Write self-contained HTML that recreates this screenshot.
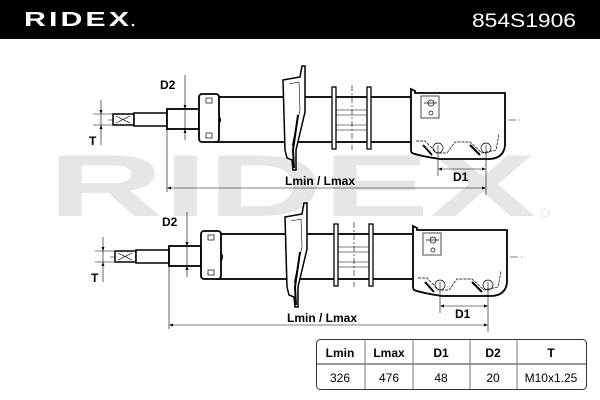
<!DOCTYPE html>
<html><head><meta charset="utf-8"><style>
html,body{margin:0;padding:0;background:#fff;}
svg{display:block;font-family:"Liberation Sans",Arial,sans-serif;}
</style></head><body>
<svg width="600" height="400" viewBox="0 0 600 400" xmlns="http://www.w3.org/2000/svg">
<rect x="0" y="0" width="600" height="39" fill="#000"/>
<text x="24" y="26" fill="#fff" font-size="20" font-weight="bold" textLength="108" lengthAdjust="spacingAndGlyphs" letter-spacing="2">RIDEX</text>
<circle cx="133" cy="25" r="1.3" fill="#fff"/>
<text x="472" y="27" fill="#fff" font-size="19" textLength="104" lengthAdjust="spacingAndGlyphs">854S1906</text>

<!-- watermark -->
<text x="48" y="216" fill="#e6e6e6" font-size="88" font-weight="bold" textLength="488" lengthAdjust="spacingAndGlyphs">RIDEX</text>
<circle cx="545" cy="213" r="4" fill="none" stroke="#e0e0e0" stroke-width="1"/>

<defs>
<g id="shock">
  <!-- center line -->
  <line x1="108" y1="120" x2="520" y2="120" stroke="#000" stroke-width="0.6" stroke-dasharray="8,3,2,3"/>
  <!-- end thread -->
  <rect x="113" y="114" width="21" height="11" fill="#fff" stroke="#000" stroke-width="1.5"/>
  <path d="M116 116 L130 123 M116 123 L130 116" stroke="#000" stroke-width="0.6"/>
  <!-- rod -->
  <rect x="134" y="113" width="33" height="13" fill="#fff" stroke="#000" stroke-width="1.5"/>
  <!-- D2 section -->
  <rect x="167" y="109" width="32" height="20" fill="#fff" stroke="#000" stroke-width="1.8"/>
  <!-- tube -->
  <rect x="215" y="97" width="200" height="45" fill="#fff" stroke="#000" stroke-width="1.8"/>
  <!-- cap -->
  <rect x="199" y="94" width="20" height="48" rx="3" fill="#fff" stroke="#000" stroke-width="1.8"/>
  <rect x="206" y="98" width="6" height="5" fill="none" stroke="#000" stroke-width="0.7"/>
  <rect x="206" y="133" width="6" height="5" fill="none" stroke="#000" stroke-width="0.7"/>
  <path d="M219 116 q3 4 0 8" fill="none" stroke="#000" stroke-width="1"/>
  <!-- spring plate -->
  <path d="M283 80 L300 77 L302 66 L305 66 L305 112 L296 150 L296 170 L293 170 L292 160 L287 158 L285 150 Z" fill="#fff" stroke="#000" stroke-width="1.5"/>
  <path d="M289 84 L299 82 L300 110 L292 146" fill="none" stroke="#000" stroke-width="0.6"/>
  <path d="M298 115 L293 150 L294 168" fill="none" stroke="#000" stroke-width="2"/>
  <!-- rings -->
  <rect x="332" y="87" width="4" height="62" fill="#fff" stroke="#000" stroke-width="1.3"/>
  <rect x="367" y="87" width="4" height="62" fill="#fff" stroke="#000" stroke-width="1.3"/>
  <path d="M336 110 L367 110 M336 115 L367 115 M336 125 L367 125 M336 130 L367 130" stroke="#000" stroke-width="0.6"/>
  <line x1="352" y1="85" x2="352" y2="150" stroke="#000" stroke-width="0.6" stroke-dasharray="6,2,2,2"/>
  <!-- bracket -->
  <path d="M411 89 L415 91 L415 93 L505 93 L505 145 Q504 158 490 159 L440 159 Q420 156 412 153 Q411 152 411 150 Z" fill="#fff" stroke="#000" stroke-width="1.8"/>
  <rect x="421" y="96" width="18" height="22" fill="none" stroke="#000" stroke-width="0.7"/>
  <circle cx="431" cy="103" r="3" fill="none" stroke="#000" stroke-width="0.7"/>
  <line x1="424" y1="103" x2="437" y2="103" stroke="#000" stroke-width="0.7"/>
  <circle cx="431" cy="113" r="2" fill="none" stroke="#000" stroke-width="0.7"/>
  <path d="M416 141 L425 141 L437 153 L447 153 L455 142 L470 142 L482 153 L496 150 L499 134" fill="none" stroke="#000" stroke-width="0.7" stroke-dasharray="3,1"/>
  <path d="M423 145 L432 155 M470 145 L480 155" stroke="#000" stroke-width="2"/>
  <circle cx="438" cy="148" r="5" fill="none" stroke="#000" stroke-width="0.7"/>
  <circle cx="486" cy="148" r="5" fill="none" stroke="#000" stroke-width="0.7"/>
  <!-- D1 dim -->
  <line x1="438" y1="145" x2="438" y2="176" stroke="#000" stroke-width="0.6"/>
  <line x1="486" y1="145" x2="486" y2="195" stroke="#000" stroke-width="0.6"/>
  <line x1="440" y1="169" x2="484" y2="169" stroke="#000" stroke-width="0.6"/>
  <path d="M438 169 l4 -1.5 v3 Z M486 169 l-4 -1.5 v3 Z" fill="#000"/>
  <text x="453" y="181" font-size="12" font-weight="bold">D1</text>
  <!-- L dim -->
  <line x1="167" y1="128" x2="167" y2="192" stroke="#000" stroke-width="0.6"/>
  <line x1="169" y1="188" x2="484" y2="188" stroke="#000" stroke-width="0.6"/>
  <path d="M167 188 l4 -1.5 v3 Z M486 188 l-4 -1.5 v3 Z" fill="#000"/>
  <text x="285" y="185" font-size="12" font-weight="bold">Lmin / Lmax</text>
  <!-- D2 dim -->
  <line x1="185" y1="75" x2="185" y2="140" stroke="#000" stroke-width="0.6"/>
  <path d="M185 109 l-1.5 -4 h3 Z M185 129 l-1.5 4 h3 Z" fill="#000"/>
  <text x="160" y="89" font-size="12" font-weight="bold">D2</text>
  <!-- T dim -->
  <line x1="101" y1="100" x2="101" y2="145" stroke="#000" stroke-width="0.6"/>
  <line x1="93" y1="114" x2="112" y2="114" stroke="#000" stroke-width="0.5"/>
  <line x1="93" y1="125" x2="112" y2="125" stroke="#000" stroke-width="0.5"/>
  <path d="M101 114 l-1.5 -4 h3 Z M101 125 l-1.5 4 h3 Z" fill="#000"/>
  <text x="89" y="145" font-size="12" font-weight="bold">T</text>
</g>
</defs>
<use href="#shock"/>
<use href="#shock" transform="translate(2,137)"/>

<!-- table -->
<rect x="316.5" y="339.5" width="270" height="50" rx="4" fill="#fff" stroke="#333" stroke-width="1"/>
<line x1="316" y1="364" x2="586" y2="364" stroke="#333" stroke-width="1"/>
<g stroke="#777" stroke-width="1">
<line x1="365" y1="339" x2="365" y2="389"/>
<line x1="413" y1="339" x2="413" y2="389"/>
<line x1="470" y1="339" x2="470" y2="389"/>
<line x1="517" y1="339" x2="517" y2="389"/>
</g>
<g font-size="12" text-anchor="middle">
<text x="340" y="357" font-weight="bold">Lmin</text>
<text x="389" y="357" font-weight="bold">Lmax</text>
<text x="441" y="357" font-weight="bold">D1</text>
<text x="493" y="357" font-weight="bold">D2</text>
<text x="551" y="357" font-weight="bold">T</text>
<text x="340" y="382">326</text>
<text x="389" y="382">476</text>
<text x="441" y="382">48</text>
<text x="493" y="382">20</text>
<text x="551" y="382">M10x1.25</text>
</g>
</svg>
</body></html>
